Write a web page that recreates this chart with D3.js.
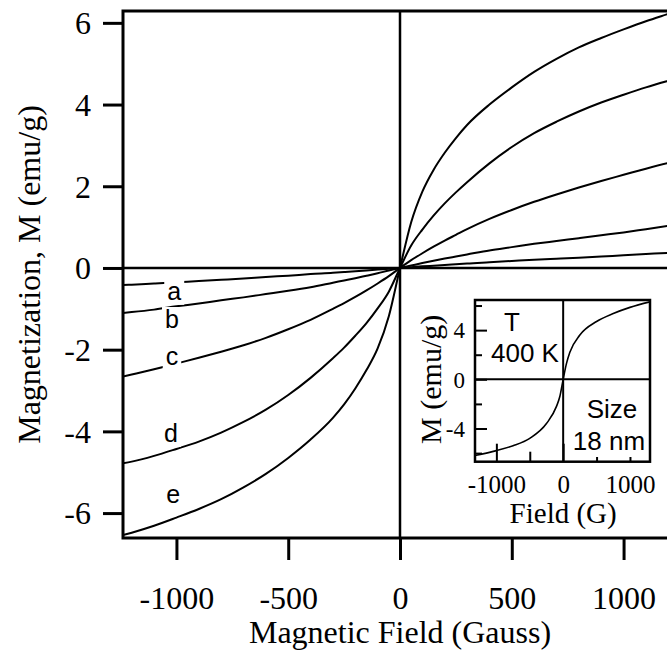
<!DOCTYPE html>
<html>
<head>
<meta charset="utf-8">
<script src="https://cdn.jsdelivr.net/npm/d3@7/dist/d3.min.js"></script>
<style>
  html, body { margin: 0; padding: 0; background: #fff; }
  svg { display: block; }
</style>
</head>
<body>
<svg id="chart" width="667" height="655"></svg>
<script>
// ---- Data -------------------------------------------------------------
// Applied field (Gauss) at which the five curves are sampled
const fieldG = [-1239, -1200, -1100, -1000, -900, -800, -700, -600, -500, -400, -300, -250, -200, -150, -100, -50, 0,
                50, 100, 150, 200, 250, 300, 400, 500, 600, 700, 800, 900, 1000, 1100, 1200, 1239];
const curveNames = ["a", "b", "c", "d", "e"];
// Magnetization (emu/g) of each curve at the fields above
const magA = [-0.42, -0.41, -0.38, -0.35, -0.32, -0.29, -0.26, -0.22, -0.19, -0.15, -0.12, -0.10, -0.08, -0.06, -0.04, -0.02, 0,
              0.02, 0.04, 0.055, 0.07, 0.09, 0.11, 0.14, 0.17, 0.20, 0.225, 0.25, 0.28, 0.31, 0.34, 0.37, 0.38];
const magB = [-1.10, -1.08, -1.02, -0.94, -0.87, -0.79, -0.72, -0.64, -0.56, -0.47, -0.36, -0.305, -0.25, -0.19, -0.13, -0.06, 0,
              0.06, 0.12, 0.175, 0.23, 0.28, 0.33, 0.43, 0.51, 0.59, 0.66, 0.73, 0.80, 0.87, 0.95, 1.03, 1.06];
const magC = [-2.66, -2.61, -2.48, -2.34, -2.20, -2.05, -1.89, -1.71, -1.50, -1.27, -1.00, -0.86, -0.71, -0.55, -0.38, -0.20, 0,
              0.19, 0.36, 0.52, 0.67, 0.81, 0.95, 1.20, 1.42, 1.62, 1.80, 1.97, 2.13, 2.28, 2.43, 2.57, 2.62];
const magD = [-4.78, -4.74, -4.60, -4.43, -4.25, -4.03, -3.77, -3.47, -3.11, -2.69, -2.21, -1.95, -1.66, -1.35, -0.99, -0.58, 0,
              0.55, 0.94, 1.28, 1.58, 1.85, 2.10, 2.56, 2.96, 3.30, 3.58, 3.83, 4.05, 4.24, 4.42, 4.58, 4.64];
const magE = [-6.54, -6.48, -6.31, -6.11, -5.90, -5.66, -5.37, -5.04, -4.65, -4.20, -3.67, -3.34, -2.95, -2.50, -1.97, -1.18, 0,
              1.12, 1.87, 2.40, 2.82, 3.18, 3.50, 4.00, 4.42, 4.80, 5.12, 5.40, 5.63, 5.84, 6.04, 6.22, 6.29];
const curveMags = [magA, magB, magC, magD, magE];

const xTicks = [-1000, -500, 0, 500, 1000];
const yTicks = [-6, -4, -2, 0, 2, 4, 6];

// Inset: 18 nm particles at 400 K
const insetField = [-1320, -1000, -750, -500, -250, -100, -50, 0, 50, 100, 250, 500, 750, 1000, 1300];
const insetMag   = [-6.2, -5.8, -5.4, -4.8, -3.6, -2.2, -1.4, 0, 1.3, 2.2, 3.6, 4.7, 5.35, 5.85, 6.3];
const insetXMajor = [-1000, 0, 1000];
const insetXMinor = [-500, 500];
const insetYMajor = [-4, 0, 4];
const insetYMinor = [-6, -2, 2, 6];

// ---- Layout -----------------------------------------------------------
const SERIF = "'Liberation Serif', 'Times New Roman', Times, serif";
const SANS = "'Liberation Sans', Arial, Helvetica, sans-serif";
const plot = { left: 123, right: 677, top: 11, bottom: 538 };
const inset = { left: 475, right: 650, top: 300, bottom: 461.7 };

const svg = d3.select("#chart");
svg.append("rect").attr("width", 667).attr("height", 655).attr("fill", "#fff");

const x = d3.scaleLinear().domain([-1239, 1239]).range([plot.left, plot.right]);
const y = d3.scaleLinear().domain([-6.61, 6.29]).range([plot.bottom, plot.top]);

svg.append("clipPath").attr("id", "plotClip")
  .append("rect")
  .attr("x", plot.left).attr("y", plot.top)
  .attr("width", plot.right - plot.left).attr("height", plot.bottom - plot.top);

// zero lines
svg.append("line")
  .attr("x1", plot.left).attr("x2", plot.right)
  .attr("y1", y(0)).attr("y2", y(0))
  .attr("stroke", "#000").attr("stroke-width", 2.5);
svg.append("line")
  .attr("x1", x(0)).attr("x2", x(0))
  .attr("y1", plot.top).attr("y2", plot.bottom)
  .attr("stroke", "#000").attr("stroke-width", 2.5);

// magnetization curves
const line = d3.line()
  .x((d, i) => x(fieldG[i]))
  .y(d => y(d))
  .curve(d3.curveMonotoneX);

svg.append("g").attr("clip-path", "url(#plotClip)")
  .selectAll("path")
  .data(curveMags)
  .join("path")
  .attr("d", line)
  .attr("fill", "none")
  .attr("stroke", "#000")
  .attr("stroke-width", 2);

// curve letters, each on a white patch that breaks its curve
const letterSpots = [
  { field: -1010, m: -0.78 },
  { field: -1020, m: -1.47 },
  { field: -1020, m: -2.38 },
  { field: -1025, m: -4.26 },
  { field: -1015, m: -5.76 }
];
curveNames.forEach((name, i) => {
  const g = svg.append("g");
  const t = g.append("text")
    .attr("x", x(letterSpots[i].field))
    .attr("y", y(letterSpots[i].m))
    .attr("text-anchor", "middle")
    .style("font-family", SANS)
    .style("font-size", "25px")
    .text(name);
  const bb = t.node().getBBox();
  g.insert("rect", "text")
    .attr("x", bb.x - 3).attr("y", bb.y + 2)
    .attr("width", bb.width + 6).attr("height", bb.height - 2)
    .attr("fill", "#fff");
});

// axes
const gx = svg.append("g")
  .attr("transform", `translate(0,${plot.bottom})`)
  .call(d3.axisBottom(x).tickValues(xTicks).tickSize(22).tickFormat(d => String(d)));
gx.select(".domain").remove();
gx.selectAll(".tick line").attr("stroke", "#000").attr("stroke-width", 3);
gx.selectAll(".tick text")
  .attr("y", 71).attr("dy", 0)
  .attr("fill", "#000")
  .style("font-family", SERIF).style("font-size", "32px");

const gy = svg.append("g")
  .attr("transform", `translate(${plot.left},0)`)
  .call(d3.axisLeft(y).tickValues(yTicks).tickSize(20).tickPadding(12).tickFormat(d => String(d)));
gy.select(".domain").remove();
gy.selectAll(".tick line").attr("stroke", "#000").attr("stroke-width", 3);
gy.selectAll(".tick text")
  .attr("dy", "0.34em")
  .attr("fill", "#000")
  .style("font-family", SERIF).style("font-size", "32px");

// plot frame
svg.append("rect")
  .attr("x", plot.left).attr("y", plot.top)
  .attr("width", plot.right - plot.left).attr("height", plot.bottom - plot.top)
  .attr("fill", "none").attr("stroke", "#000").attr("stroke-width", 3);

// axis titles
svg.append("text")
  .attr("x", x(0)).attr("y", 643)
  .attr("text-anchor", "middle")
  .style("font-family", SERIF).style("font-size", "32px")
  .text("Magnetic Field (Gauss)");
svg.append("text")
  .attr("transform", `translate(40,${(plot.top + plot.bottom) / 2}) rotate(-90)`)
  .attr("text-anchor", "middle")
  .style("font-family", SERIF).style("font-size", "32px")
  .text("Magnetization, M (emu/g)");

// ---- Inset ------------------------------------------------------------
const xi = d3.scaleLinear().domain([-1320, 1300]).range([inset.left, inset.right]);
const yi = d3.scaleLinear().domain([-6.7, 6.45]).range([inset.bottom, inset.top]);
const ins = svg.append("g");

svg.append("clipPath").attr("id", "insetClip")
  .append("rect")
  .attr("x", inset.left).attr("y", inset.top)
  .attr("width", inset.right - inset.left).attr("height", inset.bottom - inset.top);

ins.append("line")
  .attr("x1", inset.left).attr("x2", inset.right)
  .attr("y1", yi(0)).attr("y2", yi(0))
  .attr("stroke", "#000").attr("stroke-width", 2);
ins.append("line")
  .attr("x1", xi(0)).attr("x2", xi(0))
  .attr("y1", inset.top).attr("y2", inset.bottom)
  .attr("stroke", "#000").attr("stroke-width", 2);

// inward ticks
function inwardAxis(axis, values, size, withLabels) {
  return axis.tickValues(values).tickSize(-size)
    .tickFormat(withLabels ? (d => String(d)) : () => "");
}
const ixMaj = ins.append("g").attr("transform", `translate(0,${inset.bottom})`)
  .call(inwardAxis(d3.axisBottom(xi), insetXMajor, 18, true));
const ixMin = ins.append("g").attr("transform", `translate(0,${inset.bottom})`)
  .call(inwardAxis(d3.axisBottom(xi), insetXMinor, 10, false));
const iyMaj = ins.append("g").attr("transform", `translate(${inset.left},0)`)
  .call(inwardAxis(d3.axisLeft(yi), insetYMajor, 12, true));
const iyMin = ins.append("g").attr("transform", `translate(${inset.left},0)`)
  .call(inwardAxis(d3.axisLeft(yi), insetYMinor, 7, false));
[ixMaj, ixMin, iyMaj, iyMin].forEach(g => {
  g.select(".domain").remove();
  g.selectAll(".tick line").attr("stroke", "#000").attr("stroke-width", 2);
});
ixMaj.selectAll(".tick text")
  .attr("y", 31.5).attr("dy", 0).attr("fill", "#000")
  .style("font-family", SERIF).style("font-size", "25px");
iyMaj.selectAll(".tick text")
  .attr("x", -10).attr("dy", "0.34em").attr("fill", "#000")
  .style("font-family", SERIF).style("font-size", "23px");

ins.append("path")
  .datum(insetMag)
  .attr("clip-path", "url(#insetClip)")
  .attr("d", d3.line().x((d, i) => xi(insetField[i])).y(d => yi(d)).curve(d3.curveMonotoneX))
  .attr("fill", "none").attr("stroke", "#000").attr("stroke-width", 1.6);

// inset notes
const note = (tx, ty, str) => ins.append("text")
  .attr("x", tx).attr("y", ty).attr("text-anchor", "middle")
  .style("font-family", SANS).style("font-size", "26px").text(str);
note(512, 331, "T");
note(525, 362, "400 K");
const sizeG = ins.append("g");
sizeG.append("text").attr("x", 612).attr("y", 418).attr("text-anchor", "middle")
  .style("font-family", SANS).style("font-size", "26px").text("Size");
const s2 = sizeG.append("text").attr("x", 609).attr("y", 450).attr("text-anchor", "middle")
  .style("font-family", SANS).style("font-size", "26px").text("18 nm");
const b2 = s2.node().getBBox();
sizeG.insert("rect", "text")
  .attr("x", b2.x - 1).attr("y", b2.y)
  .attr("width", Math.min(b2.width + 2, inset.right - 1.5 - (b2.x - 1)))
  .attr("height", b2.height + 1)
  .attr("fill", "#fff");

ins.append("rect")
  .attr("x", inset.left).attr("y", inset.top)
  .attr("width", inset.right - inset.left).attr("height", inset.bottom - inset.top)
  .attr("fill", "none").attr("stroke", "#000").attr("stroke-width", 2.5);

ins.append("text")
  .attr("x", xi(0)).attr("y", 523)
  .attr("text-anchor", "middle")
  .style("font-family", SERIF).style("font-size", "29px")
  .text("Field (G)");
ins.append("text")
  .attr("transform", `translate(441,${yi(0)}) rotate(-90)`)
  .attr("text-anchor", "middle")
  .style("font-family", SERIF).style("font-size", "30px")
  .text("M (emu/g)");
</script>
</body>
</html>
